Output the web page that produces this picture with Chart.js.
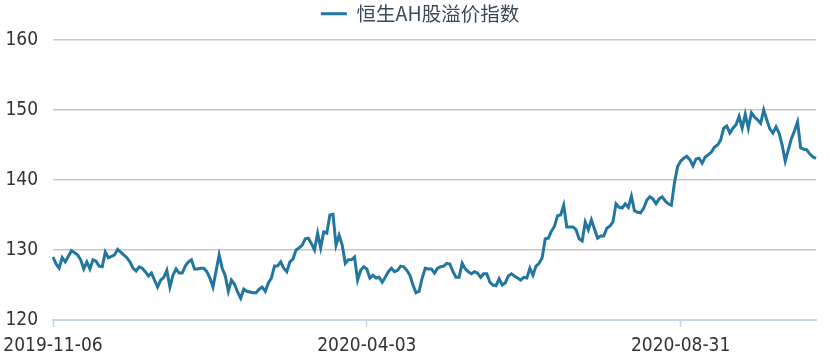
<!DOCTYPE html>
<html>
<head>
<meta charset="utf-8">
<script src="https://cdn.jsdelivr.net/npm/chart.js@4/dist/chart.umd.min.js"></script>
<style>
html,body{margin:0;padding:0;background:#fff;}
#wrap{width:830px;height:362px;}
</style>
</head>
<body>
<div id="wrap"><canvas id="c" width="830" height="362"></canvas></div>
<script>
const seriesName = '恒生AH股溢价指数';
const tickLabels = ['2019-11-06', '2020-04-03', '2020-08-31'];
const tickIndices = [0, 102, 204];
const yTicks = [120, 130, 140, 150, 160];
const values = [
129.0,128.0,127.4,128.9,128.3,129.1,129.9,129.6,129.3,128.6,
127.3,128.3,127.3,128.6,128.4,127.7,127.6,129.7,128.9,129.1,
129.3,130.1,129.7,129.3,128.9,128.3,127.4,127.0,127.6,127.4,
126.9,126.3,126.7,125.7,124.7,125.7,126.1,127.1,124.7,126.4,
127.3,126.7,126.7,127.7,128.3,128.6,127.3,127.3,127.4,127.4,
126.9,126.0,124.7,127.0,129.3,127.4,126.3,124.1,125.7,125.1,
124.0,123.1,124.4,124.1,124.0,123.9,123.9,124.4,124.7,124.1,
125.3,126.0,127.7,127.7,128.3,127.4,126.9,128.3,128.7,130.0,
130.3,130.7,131.6,131.7,130.9,130.0,132.4,130.3,132.6,132.4,
135.0,135.1,130.7,132.1,130.7,128.1,128.6,128.6,129.0,125.7,
127.1,127.6,127.3,126.0,126.4,126.0,126.1,125.4,126.1,126.9,
127.4,126.9,127.1,127.7,127.6,127.1,126.4,125.0,123.9,124.1,
126.0,127.4,127.3,127.3,126.7,127.4,127.6,127.7,128.1,128.0,
126.9,126.1,126.1,128.1,127.3,126.9,126.6,126.9,126.7,126.1,
126.6,126.6,125.4,125.0,124.9,125.9,125.0,125.3,126.3,126.6,
126.3,126.0,125.7,126.1,126.0,127.4,126.4,127.7,128.1,128.9,
131.6,131.7,132.7,133.4,134.9,135.0,136.4,133.3,133.3,133.3,
132.9,131.6,131.3,134.0,132.9,134.3,133.0,131.7,132.0,132.0,
133.1,133.4,134.0,136.6,136.1,136.0,136.6,136.1,137.7,135.6,
135.4,135.3,136.0,137.1,137.6,137.3,136.6,137.3,137.6,137.0,
136.6,136.4,139.6,141.9,142.7,143.1,143.4,142.9,142.0,143.0,
143.1,142.4,143.3,143.6,144.0,144.7,145.0,145.7,147.4,147.7,
146.7,147.4,147.9,149.1,147.4,149.4,147.4,149.6,149.0,148.6,
148.1,150.0,148.6,147.3,146.7,147.6,146.7,145.0,142.7,144.3,
145.9,147.0,148.3,144.6,144.4,144.3,143.7,143.3,143.1
];
const labels = values.map((_, i) => String(i));

const lineColor = '#22769f';
const narrowFont = "'DejaVu Sans Condensed', 'DejaVu Sans', sans-serif";

const legendFix = {
  id: 'legendFix',
  beforeUpdate(chart) {
    const lg = chart.legend;
    if (lg && !lg._patched) {
      const origFit = lg.fit.bind(lg);
      lg.fit = function () { origFit(); this.height = 40; };
      const origDraw = lg.draw.bind(lg);
      lg.draw = function () {
        const ctx = this.ctx;
        ctx.save();
        ctx.translate(12, 0);
        origDraw();
        ctx.restore();
      };
      lg._patched = true;
    }
  }
};

new Chart(document.getElementById('c'), {
  type: 'line',
  data: {
    labels: labels,
    datasets: [{
      label: seriesName,
      data: values,
      borderColor: lineColor,
      backgroundColor: lineColor,
      borderWidth: 3,
      pointRadius: 0,
      pointHoverRadius: 0,
      tension: 0,
      fill: false
    }]
  },
  plugins: [legendFix],
  options: {
    responsive: false,
    animation: false,
    devicePixelRatio: 1,
    layout: { padding: { left: 0, right: 14, top: 0, bottom: 0 } },
    plugins: {
      tooltip: { enabled: false },
      legend: {
        display: true,
        position: 'top',
        align: 'center',
        labels: {
          usePointStyle: true,
          pointStyle: 'line',
          pointStyleWidth: 26,
          padding: 4,
          color: '#3a4a5c',
          font: { family: "'Noto Sans CJK SC', sans-serif", size: 19.5 }
        }
      }
    },
    scales: {
      x: {
        type: 'category',
        offset: false,
        afterBuildTicks(scale) {
          scale.ticks = tickIndices.map(v => ({ value: v }));
        },
        afterFit(scale) {
          scale.height = 42;
          scale.paddingLeft = 0;
          scale.paddingRight = 0;
        },
        grid: {
          drawOnChartArea: false,
          drawTicks: true,
          tickLength: 7,
          tickColor: '#c3d5ea',
          tickWidth: 1.5
        },
        border: { display: true, color: '#c3d5ea', width: 2 },
        ticks: {
          autoSkip: false,
          maxRotation: 0,
          minRotation: 0,
          padding: 8,
          color: '#333',
          font: { family: narrowFont, size: 19 },
          callback(value) {
            const k = tickIndices.indexOf(value);
            return k >= 0 ? tickLabels[k] : '';
          }
        }
      },
      y: {
        min: 120,
        max: 160,
        afterBuildTicks(scale) {
          scale.ticks = yTicks.map(v => ({ value: v }));
        },
        afterFit(scale) { scale.width = 53; },
        border: { display: false },
        grid: {
          drawTicks: false,
          color: ctx => (ctx.tick && ctx.tick.value === 120) ? 'rgba(0,0,0,0)' : '#c8c8c8',
          lineWidth: 1.5
        },
        ticks: {
          padding: 15,
          color: '#333',
          font: { family: narrowFont, size: 19 }
        }
      }
    }
  }
});
</script>
</body>
</html>
